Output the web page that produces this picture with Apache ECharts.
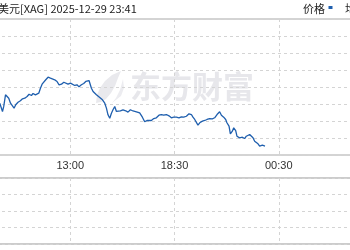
<!DOCTYPE html>
<html>
<head>
<meta charset="utf-8">
<script src="https://cdn.jsdelivr.net/npm/echarts@6/dist/echarts.min.js"></script>
<style>html,body{margin:0;padding:0;background:#fff}#c{width:350px;height:250px}</style>
</head>
<body>
<div id="c"></div>
<script>
// x position: 0..400, ticks every 100 (13:00 at 100, 18:30 at 200, 00:30 at 300)
var xTickLabels = {100: '13:00', 200: '18:30', 300: '00:30'};
var priceX = [32.4,34.0,35.0,36.2,37.9,39.4,41.0,42.7,44.2,46.1,47.7,49.9,52.2,54.2,56.4,58.6,60.5,62.8,64.3,66.6,68.2,69.8,71.4,73.0,74.6,76.5,78.7,81.0,82.9,85.1,87.3,89.3,91.6,93.8,95.7,97.9,100.2,102.1,104.3,106.5,108.4,110.7,112.9,114.9,116.5,118.0,119.4,120.3,121.9,123.5,125.1,126.6,128.3,130.9,133.1,134.7,136.2,137.9,139.5,141.0,142.7,144.3,145.8,148.1,150.6,153.2,155.4,157.7,160.2,163.5,166.6,169.2,171.4,173.6,175.5,177.8,180.1,182.6,185.1,187.4,189.6,192.2,194.7,197.0,199.2,201.8,204.3,206.6,208.8,211.4,213.9,216.2,217.7,219.4,221.0,222.5,224.2,226.8,229.0,231.2,233.7,236.3,238.5,240.8,242.1,243.3,245.0,247.2,249.1,250.3,252.3,253.6,255.5,256.8,258.7,259.9,262.5,265.1,267.3,268.9,270.5,272.1,273.7,275.3,276.9,278.5,280.1,281.7,283.3,284.3,285.5,286.8];
var priceY = [76.09,75.91,75.12,75.71,77.08,77.27,76.68,76.09,76.29,75.51,75.91,76.21,76.38,76.61,76.68,76.88,77.15,77.00,77.24,77.08,77.00,77.27,77.86,78.33,78.56,78.85,79.15,79.04,79.04,78.85,78.65,78.26,78.33,78.56,78.45,78.33,78.45,78.26,78.18,78.26,78.02,78.26,78.41,78.65,78.85,78.76,78.56,77.86,77.47,77.62,77.08,77.27,76.76,76.49,76.09,75.51,74.73,74.33,74.92,75.32,75.71,75.12,75.32,75.20,75.32,75.20,75.04,75.32,75.18,75.08,74.96,74.45,73.91,74.06,74.18,74.06,74.29,74.38,74.68,74.76,74.68,74.76,74.61,74.38,74.45,74.45,74.38,74.49,74.45,74.56,74.85,74.76,74.45,74.18,74.06,73.51,73.79,73.98,74.06,74.18,74.29,74.26,74.38,74.76,74.96,75.08,74.68,74.45,74.18,73.79,73.39,72.49,72.80,73.20,72.88,72.21,72.02,72.09,71.94,72.21,72.02,72.41,72.21,72.02,71.62,71.55,71.32,71.04,70.85,71.15,70.92,71.04];
var titleText = '白银美元[XAG] 2025-12-29 23:41';
var legendText = ['价格', '均价'];

var data = priceX.map(function (x, i) { return [x, priceY[i]]; });
var chart = echarts.init(document.getElementById('c'));
var dashed = {show: true, lineStyle: {color: '#d4d4d4', type: [3, 3], width: 1}};
var lbl = function (v) { return xTickLabels[v] || ''; };
chart.setOption({
  animation: false,
  backgroundColor: '#fff',
  grid: [
    {left: -34, right: -33, top: 19, height: 136, outerBoundsMode: 'none', containLabel: false, show: true, borderColor: '#a8a8a8', borderWidth: 1, backgroundColor: 'transparent'},
    {left: -34, right: -33, top: 178, height: 66, outerBoundsMode: 'none', containLabel: false, show: true, borderColor: '#cccccc', borderWidth: 2, backgroundColor: 'transparent'}
  ],
  xAxis: [
    {type: 'value', gridIndex: 0, min: 0, max: 400, interval: 100, axisLine: {show: false}, axisTick: {show: false},
     splitLine: dashed, axisLabel: {formatter: lbl, color: '#333', fontSize: 11, margin: 5, fontFamily: 'Liberation Sans'}},
    {type: 'value', gridIndex: 1, min: 0, max: 400, interval: 100, axisLine: {show: false}, axisTick: {show: false},
     splitLine: dashed, axisLabel: {show: false}}
  ],
  yAxis: [
    {type: 'value', gridIndex: 0, min: 70, max: 86, interval: 2, axisLine: {show: false}, axisTick: {show: false}, axisLabel: {show: false}, splitLine: dashed},
    {type: 'value', gridIndex: 1, min: 0, max: 4, interval: 1, axisLine: {show: false}, axisTick: {show: false}, axisLabel: {show: false}, splitLine: dashed}
  ],
  graphic: [
    {type: 'text', x: 130, y: 71, z: 0, silent: true,
     style: {text: '东方财富', fontSize: 31, fontWeight: 'bold', fontFamily: 'Noto Sans CJK SC', fill: '#e7e7eb'}},
    {type: 'polygon', z: 0, silent: true,
     shape: {points: [[96,103],[97,95],[100,88],[105,81],[112,75],[121,71],[118,78],[115,86],[111,93],[106,99],[101,102]]},
     style: {fill: '#e9e9ed'}},
    {type: 'polygon', z: 0, silent: true,
     shape: {points: [[112,103],[116,98],[120,90],[123,79],[124,88],[121,96]]},
     style: {fill: '#ececf0'}},
    {type: 'text', x: -24, y: 3, z: 10, style: {text: titleText, fontSize: 11, fontFamily: 'Noto Sans CJK SC', fill: '#222'}},
    {type: 'text', x: 303, y: 3, z: 10, style: {text: legendText[0], fontSize: 11, fontFamily: 'Noto Sans CJK SC', fill: '#222'}},
    {type: 'rect', z: 10, shape: {x: 328.5, y: 6, width: 4, height: 3}, style: {fill: '#1f5fae'}},
    {type: 'text', x: 345, y: 3, z: 10, style: {text: legendText[1], fontSize: 11, fontFamily: 'Noto Sans CJK SC', fill: '#222'}}
  ],
  series: [
    {type: 'line', xAxisIndex: 0, yAxisIndex: 0, data: data, showSymbol: false, z: 5,
     lineStyle: {color: '#1f5fae', width: 1.3}}
  ]
});
</script>
</body>
</html>
